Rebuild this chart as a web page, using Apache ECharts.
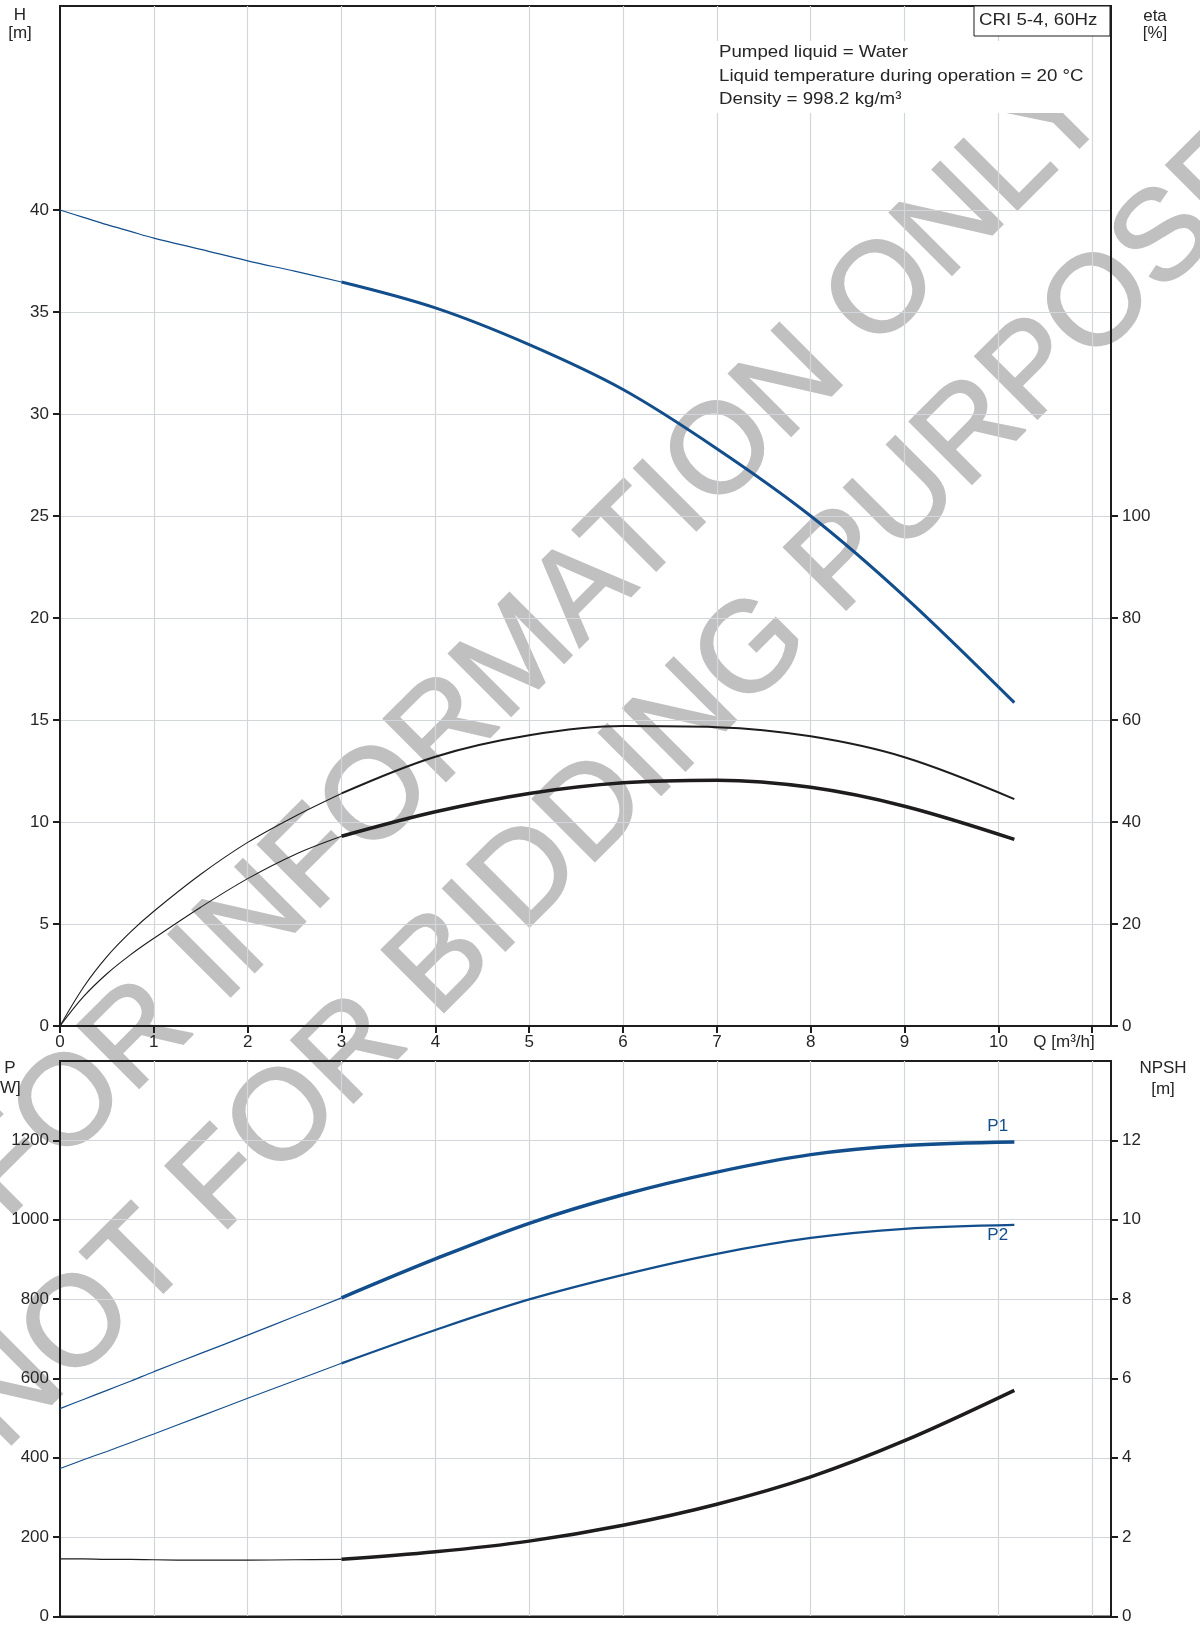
<!DOCTYPE html>
<html>
<head>
<meta charset="utf-8">
<title>CRI 5-4, 60Hz</title>
<script src="https://cdn.jsdelivr.net/npm/echarts@6/dist/echarts.min.js"></script>
<style>
  html, body { margin: 0; padding: 0; background: #fff; }
  #chart { width: 1200px; height: 1625px; }
</style>
</head>
<body>
<div id="chart"></div>
<script>
// Flow rate samples, m³/h
const flowQ = [0, 0.25, 0.5, 0.75, 1, 1.5, 2, 2.5, 3, 4, 5, 6, 7, 8, 9, 10.17];
// Head, m
const headH = [40, 39.64, 39.28, 38.95, 38.62, 38.07, 37.51, 37.0, 36.47, 35.2, 33.4, 31.2, 28.3, 25.0, 21.05, 15.85];
// Efficiencies, %
const etaPump = [0, 7.6, 13.6, 18.4, 22.5, 29.75, 36.0, 41.1, 45.6, 52.8, 57.0, 58.8, 58.6, 56.8, 52.7, 44.5];
const etaTotal = [0, 5.75, 10.25, 13.95, 17.2, 23.3, 28.9, 33.6, 37.2, 42.0, 45.6, 47.7, 48.2, 46.8, 43.1, 36.6];
// Power input P1 and shaft power P2, W
const powerP1 = [524, 547, 570, 593, 617, 663, 709, 756, 803, 901, 991, 1063, 1120, 1164, 1187, 1196];
const powerP2 = [373, 395, 416, 438, 460, 505, 550, 594, 638, 722, 799, 861, 914, 954, 977, 987];
// NPSH, m
const npshR = [1.45, 1.45, 1.44, 1.44, 1.43, 1.42, 1.42, 1.43, 1.44, 1.63, 1.9, 2.3, 2.83, 3.52, 4.43, 5.7];

// Ticks and labels
const qTicks = [0, 1, 2, 3, 4, 5, 6, 7, 8, 9, 10, 11];
const qLabels = [0, 1, 2, 3, 4, 5, 6, 7, 8, 9, 10];
const hTicks = [0, 5, 10, 15, 20, 25, 30, 35, 40];
const etaTicks = [0, 20, 40, 60, 80, 100];
const pTicks = [0, 200, 400, 600, 800, 1000, 1200];
const npshTicks = [0, 2, 4, 6, 8, 10, 12];

// Texts
const titleText = 'CRI 5-4, 60Hz';
const infoLines = ['Pumped liquid = Water', 'Liquid temperature during operation = 20 °C', 'Density = 998.2 kg/m³'];
const watermarkLines = ['FOR INFORMATION ONLY', 'NOT FOR BIDDING PURPOSES'];

const BLUE = '#124e8c';
const BLACK = '#1e1c1d';
const TEXT = '#262626';
const GRIDLINE = '#d2d5d9';
const WATERMARK = '#c0c0c0';
const FONT = '"Liberation Sans", Arial, sans-serif';
const QSPLIT = 3; // start of the recommended operating range

function pairs(values) {
  return flowQ.map((q, i) => [q, values[i]]);
}
function before(values) { return pairs(values).filter(p => p[0] <= QSPLIT); }
function after(values) { return pairs(values).filter(p => p[0] >= QSPLIT); }

function curve(data, xi, yi, color, width, endLabel) {
  const s = {
    type: 'line', xAxisIndex: xi, yAxisIndex: yi, data: data,
    smooth: 0.35, symbol: 'none', z: 4,
    lineStyle: { color: color, width: width, cap: 'butt' },
    emphasis: { disabled: true }, silent: true
  };
  if (endLabel) s.endLabel = endLabel;
  return s;
}

function curveName(text, dy) {
  return { show: true, formatter: text, offset: [-35, dy], color: BLUE, fontSize: 17, fontFamily: FONT };
}

const axisLineStyle = { show: true, onZero: false, lineStyle: { color: BLACK, width: 2 } };
const labelStyle = { color: TEXT, fontSize: 17, fontFamily: FONT, formatter: v => String(v) };

function valueAxisY(gridIndex, position, max, interval, ticks, split) {
  return {
    type: 'value', gridIndex: gridIndex, position: position,
    min: 0, max: max, interval: interval, z: 3,
    axisLine: axisLineStyle,
    axisTick: { show: true, length: 7, customValues: ticks, lineStyle: { color: BLACK, width: 2 } },
    axisLabel: Object.assign({ customValues: ticks, margin: 11 }, labelStyle),
    splitLine: { show: split, lineStyle: { color: GRIDLINE, width: 1.2 } }
  };
}

function textEl(x, y, text, align, sx) {
  return {
    type: 'text', x: x, y: y, z: 6, scaleX: sx || 1,
    style: { text: text, fill: TEXT, fontSize: 17, fontFamily: FONT, align: align, verticalAlign: 'middle' }
  };
}

function watermark(x, y, text) {
  return {
    type: 'text', x: x, y: y, rotation: Math.PI / 4, z: 1, silent: true,
    style: { text: text, fontSize: 128, fontFamily: FONT, fill: WATERMARK,
             stroke: WATERMARK, lineWidth: 2, align: 'center', verticalAlign: 'middle' }
  };
}

const chart = echarts.init(document.getElementById('chart'), null, { renderer: 'canvas' });

chart.setOption({
  animation: false,
  backgroundColor: '#fff',
  grid: [
    { left: 60, right: 89, top: 6, height: 1020, show: true, borderColor: BLACK, borderWidth: 2, z: 3 },
    { left: 60, right: 89, top: 1061, height: 562, show: true, borderColor: BLACK, borderWidth: 2, z: 3 }
  ],
  xAxis: [
    {
      type: 'value', gridIndex: 0, min: 0, max: 11.2, interval: 1, z: 3,
      axisLine: axisLineStyle,
      axisTick: { show: true, length: 7, customValues: qTicks, lineStyle: { color: BLACK, width: 2 } },
      axisLabel: Object.assign({ customValues: qLabels, margin: 8 }, labelStyle),
      splitLine: { show: true, lineStyle: { color: GRIDLINE, width: 1.2 } }
    },
    {
      type: 'value', gridIndex: 1, min: 0, max: 11.2, interval: 1, z: 3,
      axisLine: axisLineStyle,
      axisTick: { show: false },
      axisLabel: { show: false },
      splitLine: { show: true, lineStyle: { color: GRIDLINE, width: 1.2 } }
    }
  ],
  yAxis: [
    valueAxisY(0, 'left', 50, 5, hTicks, true),
    valueAxisY(0, 'right', 200, 20, etaTicks, false),
    valueAxisY(1, 'left', 1400, 200, pTicks, true),
    valueAxisY(1, 'right', 14, 2, npshTicks, false)
  ],
  graphic: [
    watermark(535, 642, watermarkLines[0]),
    watermark(648, 758, watermarkLines[1]),
    // liquid data panel
    { type: 'rect', z: 5, shape: { x: 714, y: 41, width: 376, height: 72 }, style: { fill: '#fff' } },
    textEl(719, 52, infoLines[0], 'left', 1.1),
    textEl(719, 76, infoLines[1], 'left', 1.1),
    textEl(719, 99, infoLines[2], 'left', 1.1),
    // pump title box
    { type: 'rect', z: 5, shape: { x: 974, y: 6, width: 136, height: 30 }, style: { fill: '#fff', stroke: BLACK, lineWidth: 1 } },
    textEl(979, 20, titleText, 'left', 1.1),
    // axis captions
    textEl(20, 15, 'H', 'center'),
    textEl(20, 33, '[m]', 'center'),
    textEl(1155, 16, 'eta', 'center'),
    textEl(1155, 33, '[%]', 'center'),
    textEl(1064, 1042, 'Q [m³/h]', 'center'),
    textEl(10, 1068, 'P', 'center'),
    textEl(8, 1088, '[W]', 'center'),
    textEl(1163, 1068, 'NPSH', 'center'),
    textEl(1163, 1089, '[m]', 'center')
  ],
  series: [
    curve(before(headH), 0, 0, BLUE, 1.2),
    curve(after(headH), 0, 0, BLUE, 3),
    curve(before(etaPump), 0, 1, BLACK, 1.1),
    curve(after(etaPump), 0, 1, BLACK, 2),
    curve(before(etaTotal), 0, 1, BLACK, 1.1),
    curve(after(etaTotal), 0, 1, BLACK, 3.5),
    curve(before(powerP1), 1, 2, BLUE, 1.2),
    curve(after(powerP1), 1, 2, BLUE, 3.5, curveName('P1', -16)),
    curve(before(powerP2), 1, 2, BLUE, 1.1),
    curve(after(powerP2), 1, 2, BLUE, 2.3, curveName('P2', 10)),
    curve(before(npshR), 1, 3, BLACK, 1.2),
    curve(after(npshR), 1, 3, BLACK, 3.5)
  ]
});
</script>
</body>
</html>
